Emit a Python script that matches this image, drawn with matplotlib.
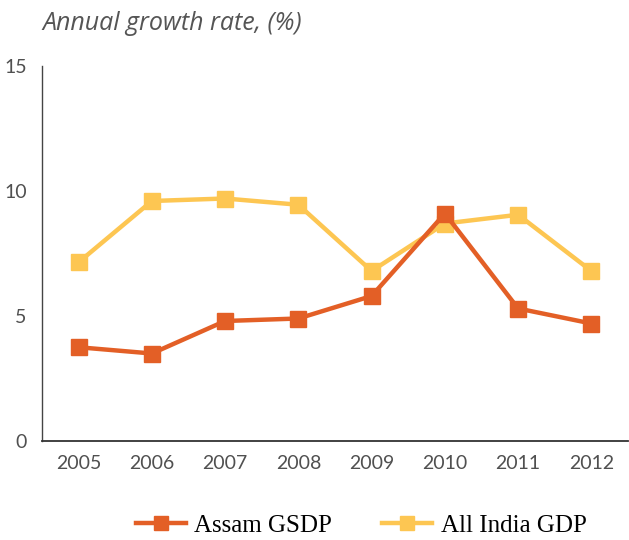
import numpy as np
import matplotlib.pyplot as plt

years = ["2005", "2006", "2007", "2008", "2009", "2010", "2011", "2012"]
assam_gsdp = [3.75, 3.5, 4.8, 4.9, 5.8, 9.1, 5.3, 4.7]
india_gdp = [7.15, 9.6, 9.7, 9.45, 6.8, 8.7, 9.05, 6.8]

assam_color = "#E35F26"
india_color = "#FDC652"

fig = plt.figure(figsize=(6.29, 5.40), dpi=100)
ax = fig.add_axes([42 / 629, 1 - 441 / 540, 586 / 629, 375 / 540])

x = np.arange(len(years))
ax.plot(x, assam_gsdp, color=assam_color, lw=3.2, marker="s", ms=11,
        label="Assam GSDP", zorder=3)
ax.plot(x, india_gdp, color=india_color, lw=3.2, marker="s", ms=11,
        label="All India GDP", zorder=2)

ax.set_xlim(-0.5, 7.5)
ax.set_ylim(0, 15)
ax.set_yticks([0, 5, 10, 15])
ax.set_xticks(x)
ax.set_xticklabels(years)

for s in ["top", "right"]:
    ax.spines[s].set_visible(False)
ax.spines["left"].set_color("#444444")
ax.spines["bottom"].set_color("#333333")
ax.spines["left"].set_linewidth(1.0)
ax.spines["bottom"].set_linewidth(1.3)
ax.tick_params(length=0, labelsize=14, labelcolor="#505050", pad=10)
for lab in ax.get_xticklabels() + ax.get_yticklabels():
    lab.set_family("Lato")
ax.tick_params(axis="y", pad=11)

fig.text(42 / 629, 1 - 23 / 540, "Annual growth rate, (%)", family="Open Sans",
         style="italic", fontsize=18, color="#555555", va="center", ha="left")

ax.legend(loc="center", bbox_to_anchor=(0.545, -0.225), ncol=2, frameon=False,
          prop={"family": "Liberation Serif", "size": 18}, handlelength=2.0,
          columnspacing=2.0, handletextpad=0.35, markerscale=0.95)

fig.savefig("out.png", dpi=100)
